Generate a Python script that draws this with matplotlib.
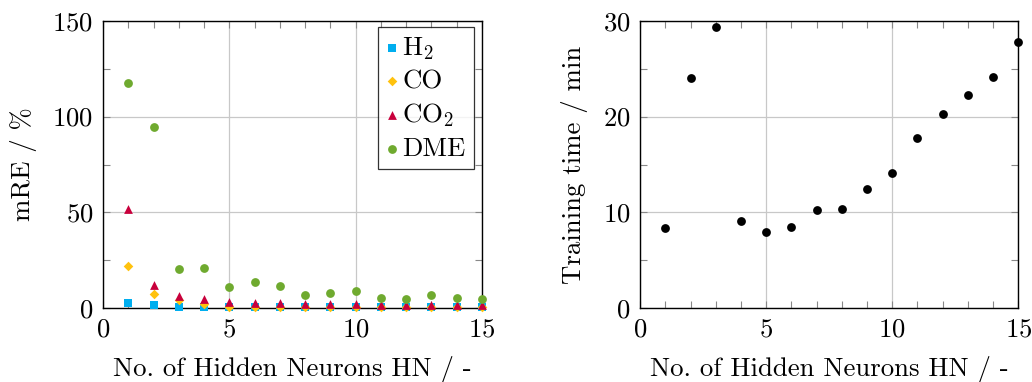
import matplotlib
matplotlib.use("Agg")
import matplotlib.pyplot as plt
from matplotlib.ticker import MultipleLocator

plt.rcParams['font.family'] = 'cmr10'
plt.rcParams['mathtext.fontset'] = 'cm'
plt.rcParams['axes.formatter.use_mathtext'] = True
plt.rcParams['font.size'] = 19.3

# data
hn = list(range(1, 16))
mre_h2 = [2.6, 1.6, 0.9, 0.9, 0.5, 0.5, 0.5, 0.5, 0.5, 0.5, 0.5, 0.5, 0.5, 0.5, 0.5]
mre_co = [22.1, 7.6, 4.3, 2.2, 0.9, 0.9, 0.9, 0.9, 0.9, 0.9, 0.9, 0.9, 0.9, 0.9, 0.9]
mre_co2 = [51.8, 12.2, 6.4, 4.9, 3.3, 2.6, 2.6, 2.1, 2.1, 2.1, 1.7, 1.7, 1.7, 1.7, 1.7]
mre_dme = [117.7, 94.4, 20.3, 20.9, 11.0, 13.6, 11.6, 6.8, 7.8, 8.9, 5.5, 4.7, 6.8, 5.5, 4.9]
train_time = [8.38, 23.99, 29.34, 9.14, 7.93, 8.51, 10.29, 10.39, 12.48, 14.08,
              17.8, 20.3, 22.25, 24.16, 27.81]

series = [
    (r'H$_2$', mre_h2, 's', '#00aeef', 34),
    ('CO', mre_co, 'D', '#ffc20e', 24),
    (r'CO$_2$', mre_co2, '^', '#c8003c', 40),
    ('DME', mre_dme, 'o', '#6faa2f', 40),
]

fig = plt.figure(figsize=(10.32, 3.82), dpi=100)
ax1 = fig.add_axes([0.0998, 0.1929, 0.3672, 0.7529])
ax2 = fig.add_axes([0.6204, 0.1929, 0.3663, 0.7529])


def style_axis(ax, ymax, ymajor, yminor):
    ax.set_xlim(0, 15)
    ax.set_ylim(0, ymax)
    ax.xaxis.set_major_locator(MultipleLocator(5))
    ax.xaxis.set_minor_locator(MultipleLocator(1))
    ax.yaxis.set_major_locator(MultipleLocator(ymajor))
    ax.yaxis.set_minor_locator(MultipleLocator(yminor))
    ax.grid(True, which='major', color='#c8c8c8', lw=0.9)
    ax.set_axisbelow(True)
    ax.tick_params(which='both', direction='in', top=True, right=True,
                   color='#888888', width=0.8)
    ax.tick_params(which='major', length=5, pad=7)
    ax.tick_params(which='minor', length=5)
    for s in ax.spines.values():
        s.set_linewidth(1.0)
    ax.set_xlabel('No. of Hidden Neurons HN / -', labelpad=10)


for label, vals, marker, color, size in series:
    ax1.scatter(hn, vals, marker=marker, s=size, color=color, label=label,
                linewidths=0, clip_on=False, zorder=3)
style_axis(ax1, 150, 50, 25)
ax1.set_ylabel('mRE / %', labelpad=11)
leg = ax1.legend(loc='upper right', bbox_to_anchor=(0.978, 0.978), frameon=True,
                 fancybox=False, edgecolor='black', handlelength=0.4,
                 handletextpad=0.2, borderpad=0.3, labelspacing=0.3,
                 borderaxespad=0)
leg.get_frame().set_linewidth(0.9)

ax2.scatter(hn, train_time, marker='o', s=40, color='black', linewidths=0,
            clip_on=False, zorder=3)
style_axis(ax2, 30, 10, 5)
ax2.set_ylabel('Training time / min', labelpad=11)

fig.savefig('out.png', dpi=100)
